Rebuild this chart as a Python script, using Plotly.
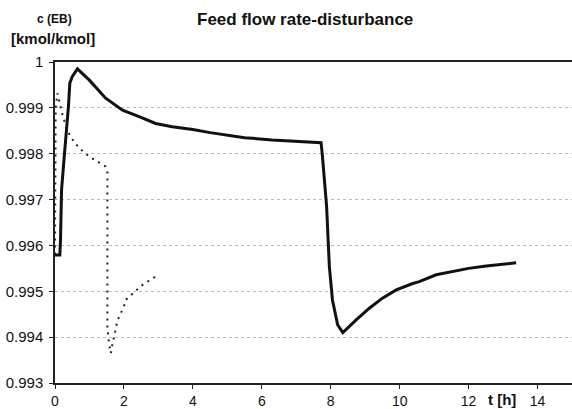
import plotly.graph_objects as go

# Solid curve (main response)
t_solid = [0, 0.14, 0.16, 0.19, 0.26, 0.33, 0.39, 0.43, 0.5, 0.65, 0.99, 1.47, 1.96,
           2.44, 2.92, 3.4, 4.0, 4.5, 5.0, 5.5, 6.3, 7.0, 7.72, 7.76, 7.88, 7.96, 8.05,
           8.2, 8.35, 8.73, 9.12, 9.5, 9.9, 10.38, 10.57, 11.06, 11.54, 12.0, 12.51, 13.38]
c_solid = [0.99579, 0.99579, 0.99612, 0.99721, 0.99786, 0.99845, 0.99903, 0.99954, 0.99968,
           0.99985, 0.99961, 0.99921, 0.99895, 0.99881, 0.99866, 0.99859, 0.99853, 0.99846,
           0.99840, 0.99835, 0.99830, 0.99827, 0.99824, 0.99794, 0.99685, 0.99554, 0.99481,
           0.99427, 0.99410, 0.99437, 0.99463, 0.99485, 0.99503, 0.99517, 0.99521, 0.99536,
           0.99543, 0.99550, 0.99555, 0.99562]

# Dotted curve
t_dot = [0, 0.02, 0.07, 0.2, 0.33, 0.45, 0.7, 0.99, 1.23, 1.47, 1.52, 1.52, 1.57, 1.62,
         1.66, 1.72, 1.76, 1.81, 1.91, 2.0, 2.05, 2.2, 2.34, 2.54, 2.92]
c_dot = [0.9958, 0.9990, 0.99932, 0.9989, 0.99857, 0.99837, 0.99812, 0.99794, 0.99783,
         0.99772, 0.99760, 0.99420, 0.99385, 0.99365, 0.99382, 0.99400, 0.99417, 0.99436,
         0.99452, 0.99467, 0.99481, 0.99492, 0.99501, 0.99514, 0.99532]

x_ticks = [0, 2, 4, 6, 8, 10, 12, 14]
y_ticks = [0.993, 0.994, 0.995, 0.996, 0.997, 0.998, 0.999, 1]
y_labels = ["0.993", "0.994", "0.995", "0.996", "0.997", "0.998", "0.999", "1"]

FONT = "Liberation Sans, Arial, sans-serif"

W, H = 572, 409
ml, mr, mt, mb = 55, 0, 62, 26
pw, ph = W - ml - mr, H - mt - mb

fig = go.Figure()
fig.add_trace(go.Scatter(x=t_dot, y=c_dot, mode="lines",
                         line=dict(color="#222", width=2, dash="2px,5px"),
                         showlegend=False, hoverinfo="skip"))
fig.add_trace(go.Scatter(x=t_solid, y=c_solid, mode="lines",
                         line=dict(color="#111", width=3),
                         showlegend=False))

fig.update_layout(
    width=W, height=H,
    margin=dict(l=ml, r=mr, t=mt, b=mb),
    paper_bgcolor="white", plot_bgcolor="white",
    font=dict(family=FONT, color="#111", size=15),
    xaxis=dict(range=[0, 15], tickvals=x_ticks, showgrid=False, zeroline=False,
               showline=True, linecolor="#222", linewidth=1.5, mirror=True,
               ticks="outside", ticklen=4, tickcolor="#222", automargin=False,
               ticklabelstandoff=0, tickfont=dict(size=14)),
    yaxis=dict(range=[0.993, 1], tickvals=y_ticks, ticktext=y_labels,
               showgrid=True, gridcolor="#bbb", griddash="dot", gridwidth=1,
               zeroline=False, showline=True, linecolor="#222", linewidth=1.5,
               ticks="outside", ticklen=4, tickcolor="#222", automargin=False,
               ticklabelstandoff=3, tickfont=dict(size=15)),
)


def pix_ann(text, px, py, size):
    fig.add_annotation(text=text, showarrow=False, font=dict(size=size),
                       xref="paper", yref="paper",
                       x=(px - ml) / pw, y=(H - mb - py) / ph,
                       xanchor="center", yanchor="middle")


pix_ann("<b>Feed flow rate-disturbance</b>", 305, 19, 17)
pix_ann("<b>c (EB)</b>", 54, 19, 12)
pix_ann("<b>[kmol/kmol]</b>", 53, 38, 15)
pix_ann("<b>t [h]</b>", 502, 400, 15)

fig.write_html("out.html")
